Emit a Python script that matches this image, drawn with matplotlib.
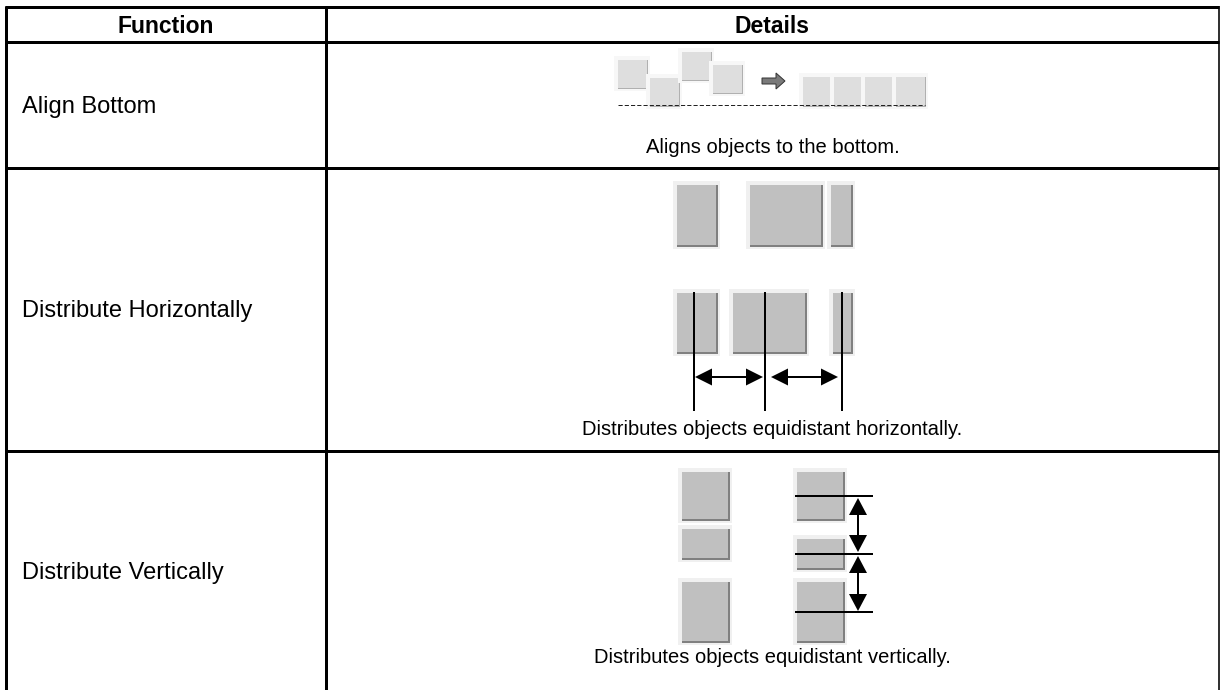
import matplotlib
matplotlib.use("Agg")
import matplotlib.pyplot as plt
from matplotlib.patches import Rectangle, Polygon

plt.rcParams['font.family'] = ['Liberation Sans', 'DejaVu Sans']
plt.rcParams['lines.scale_dashes'] = False

# table content
headers = ["Function", "Details"]
functions = ["Align Bottom", "Distribute Horizontally", "Distribute Vertically"]
details = ["Aligns objects to the bottom.",
           "Distributes objects equidistant horizontally.",
           "Distributes objects equidistant vertically."]

W, H = 1220, 690
PX = 0.72  # points per pixel at dpi 100

fig = plt.figure(figsize=(W / 100, H / 100), dpi=100)
ax = fig.add_axes([0, 0, 1, 1])
ax.set_xlim(0, W)
ax.set_ylim(H, 0)
ax.axis('off')

# table grid (pixel coords)
left, mid, right = 6, 326, 1219
top, head_bot = 7, 42
row_lines = [168, 451]
row_bounds = [head_bot, 168, 451, H]

for y in [top, head_bot] + row_lines:
    ax.plot([left - 1.5, right], [y, y], color='k', lw=3 * PX, solid_capstyle='butt')
for x in [left, mid]:
    ax.plot([x, x], [top - 1.5, H], color='k', lw=3 * PX, solid_capstyle='butt')
ax.plot([right, right], [top - 1.5, H], color='k', lw=1.6 * PX, solid_capstyle='butt')

# header
ax.text((left + mid) / 2, 33, headers[0], ha='center', va='baseline',
        fontsize=16.5, fontweight='bold')
ax.text((mid + right) / 2, 33, headers[1], ha='center', va='baseline',
        fontsize=16.5, fontweight='bold')

# function names
for i, name in enumerate(functions):
    yc = (row_bounds[i] + row_bounds[i + 1]) / 2
    ax.text(22, yc + 8, name, ha='left', va='baseline', fontsize=17)

# captions
caption_base = [153, 435, 663]
for txt, yb in zip(details, caption_base):
    ax.text((mid + right) / 2, yb, txt, ha='center', va='baseline', fontsize=14.5)


def bevel_box(x, y, w, h, fill='#c0c0c0', halo='#f0f0f0', shade='#808080', sw=2):
    ax.add_patch(Rectangle((x - 4, y - 4), w + 6, h + 6, fc=halo, ec='none'))
    ax.add_patch(Rectangle((x, y), w, h, fc=fill, ec='none'))
    ax.add_patch(Rectangle((x, y + h - sw), w, sw, fc=shade, ec='none'))
    ax.add_patch(Rectangle((x + w - sw, y), sw, h, fc=shade, ec='none'))


def h_arrow(x1, x2, y, hl=17, hw=8.5):
    ax.plot([x1 + hl, x2 - hl], [y, y], color='k', lw=2 * PX)
    ax.add_patch(Polygon([(x1, y), (x1 + hl, y - hw), (x1 + hl, y + hw)], fc='k', ec='none'))
    ax.add_patch(Polygon([(x2, y), (x2 - hl, y - hw), (x2 - hl, y + hw)], fc='k', ec='none'))


def v_arrow(x, y1, y2, hl=17, hw=9):
    ax.plot([x, x], [y1 + hl, y2 - hl], color='k', lw=2 * PX)
    ax.add_patch(Polygon([(x, y1), (x - hw, y1 + hl), (x + hw, y1 + hl)], fc='k', ec='none'))
    ax.add_patch(Polygon([(x, y2), (x - hw, y2 - hl), (x + hw, y2 - hl)], fc='k', ec='none'))


# --- row 1: align bottom illustration
soft = dict(fill='#dedede', halo='#f7f7f7', shade='#b0b0b0', sw=1.5)
for bx, by in [(618, 60), (650, 78), (682, 52), (713, 65)]:
    bevel_box(bx, by, 30, 29, **soft)
for k in range(4):
    bevel_box(803 + k * 31, 77, 30, 30, **soft)
ax.add_patch(Polygon([(762, 78), (776, 78), (776, 73), (785, 81), (776, 89), (776, 84), (762, 84)],
                     fc='#7a7a7a', ec='#333333', lw=0.7))
ax.plot([618, 925], [105, 105], color='#222222', lw=1 * PX, dashes=(3, 1.5))

# --- row 2: distribute horizontally
for bx, bw in [(677, 41), (750, 73), (831, 22)]:
    bevel_box(bx, 185, bw, 62)
for bx, bw in [(677, 41), (733, 74), (833, 20)]:
    bevel_box(bx, 293, bw, 61)
for x in [694, 765, 842]:
    ax.plot([x, x], [293, 410], color='k', lw=2 * PX)
h_arrow(695, 763, 377)
h_arrow(771, 838, 377)

# --- row 3: distribute vertically
for by, bh in [(472, 49), (529, 31), (582, 61)]:
    bevel_box(682, by, 48, bh)
for by, bh in [(472, 49), (539, 31), (582, 61)]:
    bevel_box(797, by, 48, bh)
for y in [496, 554, 612]:
    ax.plot([796, 872], [y, y], color='k', lw=2 * PX)
v_arrow(858, 498, 552)
v_arrow(858, 556, 611)

fig.savefig("out.png", dpi=100)
